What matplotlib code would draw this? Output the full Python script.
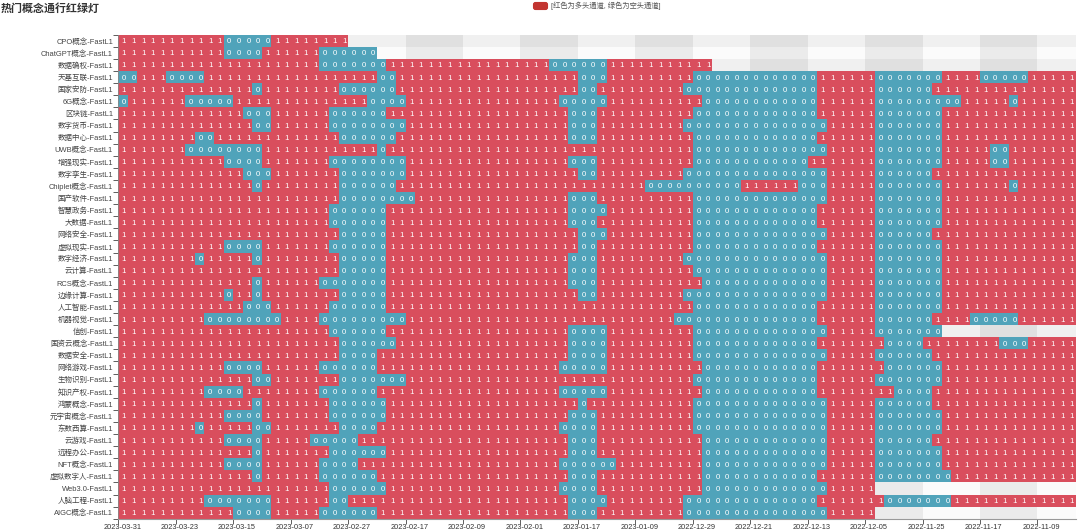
import numpy as np
import matplotlib
matplotlib.use('Agg')
import matplotlib.pyplot as plt
from matplotlib.colors import ListedColormap
from matplotlib.patches import FancyBboxPatch

plt.rcParams['font.family'] = ['Liberation Sans', 'Noto Sans CJK SC']

W, H = 1080, 532
N_COLS = 100

concepts = ['CPO概念', 'ChatGPT概念', '数据确权', '天基互联', '国家安防', '6G概念', '区块链', '数字货币',
            '数据中心', 'UWB概念', '增强现实', '数字孪生', 'Chiplet概念', '国产软件', '智慧政务', '大数据',
            '网络安全', '虚拟现实', '数字经济', '云计算', 'RCS概念', '边缘计算', '人工智能', '机器视觉',
            '信创', '国资云概念', '数据安全', '网络游戏', '生物识别', '知识产权', '鸿蒙概念', '元宇宙概念',
            '东数西算', '云游戏', '远程办公', 'NFT概念', '虚拟数字人', 'Web3.0', '人脑工程', 'AIGC概念']

date_labels = ['2023-03-31', '2023-03-23', '2023-03-15', '2023-03-07', '2023-02-27', '2023-02-17',
               '2023-02-09', '2023-02-01', '2023-01-17', '2023-01-09', '2022-12-29', '2022-12-21',
               '2022-12-13', '2022-12-05', '2022-11-25', '2022-11-17', '2022-11-09']

# number of trading days each concept has data for (the rest stays empty)
row_lengths = [24, 27, 62, 100, 100, 100, 100, 100, 100, 100, 100, 100, 100, 100, 100, 100, 100, 100, 100, 100,
               100, 100, 100, 100, 86, 100, 100, 100, 100, 100, 100, 100, 100, 100, 100, 100, 100, 79, 100, 79]

# first/last day of each run of 0 per concept, everything else is 1
zero_runs = [
    [(11, 15)],
    [(11, 14), (21, 26)],
    [(21, 27), (45, 50)],
    [(0, 1), (5, 8), (27, 28), (48, 50), (60, 72), (79, 85), (90, 94)],
    [(14, 14), (23, 28), (48, 49), (59, 72), (79, 84)],
    [(0, 0), (7, 11), (26, 29), (46, 50), (61, 72), (79, 87), (93, 93)],
    [(13, 15), (22, 27), (47, 49), (60, 72), (79, 85)],
    [(14, 15), (22, 29), (47, 49), (59, 73), (79, 85)],
    [(8, 9), (23, 28), (47, 49), (60, 72), (79, 85)],
    [(7, 14), (27, 27), (60, 73), (79, 85), (91, 92)],
    [(11, 14), (22, 29), (47, 49), (60, 71), (79, 85), (91, 92)],
    [(13, 15), (23, 29), (48, 49), (59, 73), (79, 84)],
    [(14, 14), (23, 28), (55, 64), (71, 73), (79, 85), (93, 93)],
    [(23, 30), (47, 49), (60, 73), (79, 85)],
    [(22, 27), (47, 50), (60, 72), (79, 85)],
    [(22, 27), (47, 49), (60, 72), (79, 85)],
    [(23, 27), (48, 50), (60, 73), (79, 84)],
    [(11, 14), (22, 27), (48, 49), (60, 72), (79, 85)],
    [(8, 8), (14, 14), (23, 27), (47, 49), (59, 73), (79, 85)],
    [(23, 27), (47, 49), (60, 73), (79, 85)],
    [(14, 14), (21, 27), (47, 49), (61, 73), (79, 85)],
    [(11, 11), (14, 14), (23, 27), (48, 49), (59, 73), (79, 85)],
    [(13, 15), (22, 27), (60, 72), (79, 85)],
    [(9, 16), (21, 29), (58, 72), (79, 84), (89, 93)],
    [(22, 27), (47, 50), (60, 73), (79, 85)],
    [(23, 28), (47, 50), (60, 72), (80, 83), (92, 94)],
    [(23, 26), (47, 50), (60, 73), (79, 84)],
    [(11, 14), (21, 26), (46, 50), (61, 72), (80, 85)],
    [(14, 15), (23, 29), (60, 72), (79, 85)],
    [(9, 12), (21, 26), (46, 50), (61, 72), (81, 84)],
    [(14, 14), (22, 27), (48, 48), (60, 73), (79, 84)],
    [(11, 14), (22, 27), (47, 49), (60, 73), (79, 85)],
    [(8, 8), (14, 15), (23, 26), (46, 49), (60, 73), (79, 85)],
    [(11, 14), (20, 24), (47, 49), (61, 73), (79, 84)],
    [(14, 14), (22, 27), (47, 49), (61, 73), (79, 85)],
    [(11, 14), (21, 24), (46, 51), (61, 73), (79, 85)],
    [(14, 14), (21, 26), (47, 49), (61, 72), (79, 86)],
    [(22, 27), (46, 49), (61, 73)],
    [(9, 15), (22, 23), (47, 50), (59, 72), (80, 86)],
    [(12, 15), (21, 26), (47, 49), (59, 73)],
]

# build the grid, NaN means no data that day
grid = np.full((len(concepts), N_COLS), np.nan)
for i, (length, runs) in enumerate(zip(row_lengths, zero_runs)):
    grid[i, :length] = 1
    for start, end in runs:
        grid[i, start:end + 1] = 0

fig = plt.figure(figsize=(W / 100, H / 100), dpi=100)
left, right, top, bottom = 118.3, 1075.7, 34.7, 518.7
ax = fig.add_axes([left / W, 1 - bottom / H, (right - left) / W, (bottom - top) / H])

x_edges = np.arange(N_COLS + 1)
y_edges = np.arange(len(concepts) + 1)

# striped background, visible where a concept has no data
band = (np.arange(N_COLS) // 6) % 2
stripe = (np.arange(len(concepts)) % 2 == 0)
background = np.array([[(2 * s + b) for b in band] for s in stripe])
ax.pcolormesh(x_edges, y_edges, background, cmap=ListedColormap(['#fbfbfb', '#ebebeb', '#f0f0f0', '#e0e0e0']),
              vmin=0, vmax=3, antialiased=False)

ax.pcolormesh(x_edges, y_edges, np.ma.masked_invalid(grid), cmap=ListedColormap(['#50a3ba', '#d94e5d']),
              vmin=0, vmax=1, antialiased=False)

for i in range(grid.shape[0]):
    for j in range(grid.shape[1]):
        if not np.isnan(grid[i, j]):
            ax.text(j + 0.6, i + 0.5, str(int(grid[i, j])), color='white', fontsize=5.6,
                    ha='center', va='center_baseline')

ax.set_xlim(0, N_COLS)
ax.set_ylim(len(concepts), 0)

# ticks sit on the band edges, labels on the cell centres
ax.set_xticks(np.arange(0, N_COLS + 1, 6))
ax.set_xticklabels([])
ax.set_xticks(np.arange(len(date_labels)) * 6 + 0.4, minor=True)
ax.set_xticklabels(date_labels, minor=True, fontsize=5.3, color='#333333')
ax.set_yticks(y_edges)
ax.set_yticklabels([])
ax.set_yticks(np.arange(len(concepts)) + 0.5, minor=True)
ax.set_yticklabels([c + '-FastL1' for c in concepts], minor=True, fontsize=5.4, color='#444444')
ax.tick_params(axis='both', which='major', length=3.5, width=0.6, color='#444444')
ax.tick_params(axis='x', which='minor', length=0, pad=3.8)
ax.tick_params(axis='y', which='minor', length=0, pad=3.8)

for side in ['top', 'right']:
    ax.spines[side].set_visible(False)
ax.spines['left'].set_color('#888888')
ax.spines['bottom'].set_color('#999999')
ax.spines['left'].set_linewidth(0.6)
ax.spines['bottom'].set_linewidth(0.8)

# title and legend placed in pixel coordinates
overlay = fig.add_axes([0, 0, 1, 1], facecolor='none')
overlay.set_xlim(0, W)
overlay.set_ylim(H, 0)
overlay.axis('off')
overlay.text(1, 8, '热门概念通行红绿灯', fontsize=7.9, fontweight='bold', color='#333333', ha='left', va='center')
overlay.add_patch(FancyBboxPatch((533.5, 2.5), 14, 7, boxstyle='round,pad=0,rounding_size=2',
                                 mutation_aspect=1, facecolor='#c23531', edgecolor='#c23531', linewidth=0.8))
overlay.text(551, 6, '[红色为多头通道, 绿色为空头通道]', fontsize=5.25, color='#555555', ha='left', va='center')

fig.savefig('out.png', dpi=100)
